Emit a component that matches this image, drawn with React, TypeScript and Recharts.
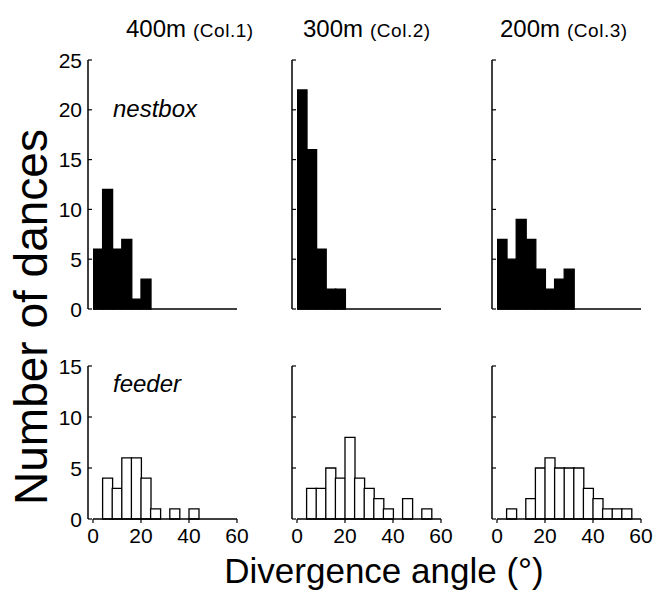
import { BarChart, Bar, XAxis, YAxis, ReferenceLine } from "recharts";

// 4-degree bins, labelled by their lower edge
const bins = [0, 4, 8, 12, 16, 20, 24, 28, 32, 36, 40, 44, 48, 52, 56];
const binWidth = 4;

const nestbox400 = [6, 12, 6, 7, 1, 3, 0, 0, 0, 0, 0, 0, 0, 0, 0];
const nestbox300 = [22, 16, 6, 2, 2, 0, 0, 0, 0, 0, 0, 0, 0, 0, 0];
const nestbox200 = [7, 5, 9, 7, 4, 2, 3, 4, 0, 0, 0, 0, 0, 0, 0];

const feeder400 = [0, 4, 3, 6, 6, 4, 1, 0, 1, 0, 1, 0, 0, 0, 0];
const feeder300 = [0, 3, 3, 5, 4, 8, 4, 3, 2, 1, 0, 2, 0, 1, 0];
const feeder200 = [0, 1, 0, 2, 5, 6, 5, 5, 5, 3, 2, 1, 1, 1, 0];

const xTicks = [0, 20, 40, 60];
const nestboxTicks = [0, 5, 10, 15, 20, 25];
const feederTicks = [0, 5, 10, 15];

const columns = [
  { dist: "400m", col: "(Col.1)", left: 38, titleX: 126, nestbox: nestbox400, feeder: feeder400 },
  { dist: "300m", col: "(Col.2)", left: 242, titleX: 303, nestbox: nestbox300, feeder: feeder300 },
  { dist: "200m", col: "(Col.3)", left: 442, titleX: 500, nestbox: nestbox200, feeder: feeder200 },
];

const FONT = "'Liberation Sans', Arial, Helvetica, sans-serif";

const toRows = (values: number[]) =>
  bins.map((b, i) => ({ mid: b + binWidth / 2, count: values[i] }));

// inward-pointing y tick with the label outside the axis
function makeYTick(showLabel: boolean) {
  return (props: any) => {
    const { x, y, payload } = props;
    return (
      <g>
        <line x1={x + 6} x2={x + 10} y1={y} y2={y} stroke="#000" strokeWidth={1.2} />
        {showLabel && (
          <text
            x={x}
            y={y}
            dy="0.36em"
            textAnchor="end"
            fontSize={21}
            fontFamily={FONT}
            fill="#000"
          >
            {payload.value}
          </text>
        )}
      </g>
    );
  };
}

interface PanelProps {
  values: number[];
  top: number;
  left: number;
  yMax: number;
  yTicks: number[];
  plotHeight: number;
  showYLabels: boolean;
  showXLabels: boolean;
  open: boolean;
}

function Panel({ values, top, left, yMax, yTicks, plotHeight, showYLabels, showXLabels, open }: PanelProps) {
  const marginTop = 14;
  const xAxisHeight = showXLabels ? 34 : 16;
  return (
    <div style={{ position: "absolute", left, top }}>
      <BarChart
        width={213}
        height={marginTop + plotHeight + xAxisHeight}
        data={toRows(values)}
        margin={{ top: marginTop, right: 14, bottom: 0, left: 0 }}
        barCategoryGap={0}
        barGap={0}
      >
        <XAxis
          dataKey="mid"
          type="number"
          domain={[0, 60]}
          ticks={xTicks}
          interval={0}
          allowDataOverflow
          padding={{ left: 5, right: 0 }}
          axisLine={false}
          tickLine={{ stroke: "#000", strokeWidth: 1.2 }}
          tickSize={4}
          tickMargin={5}
          height={xAxisHeight}
          tick={showXLabels ? { fontSize: 21, fill: "#000", fontFamily: FONT } : false}
        />
        <YAxis
          type="number"
          domain={[0, yMax]}
          ticks={yTicks}
          interval={0}
          width={50}
          axisLine={{ stroke: "#000", strokeWidth: 1.5 }}
          tickLine={false}
          tickSize={0}
          tickMargin={6}
          tick={makeYTick(showYLabels)}
        />
        <Bar
          dataKey="count"
          fill={open ? "#fff" : "#000"}
          stroke="#000"
          strokeWidth={1.3}
          isAnimationActive={false}
        />
        <ReferenceLine
          segment={[
            { x: 0, y: 0 },
            { x: 60, y: 0 },
          ]}
          stroke="#000"
          strokeWidth={1.5}
        />
      </BarChart>
    </div>
  );
}

export default function App() {
  return (
    <div
      style={{
        position: "absolute",
        left: 0,
        top: 0,
        width: 661,
        height: 593,
        background: "#fff",
        fontFamily: FONT,
      }}
    >
      {columns.map((c) => (
        <Panel
          key={"n" + c.dist}
          values={c.nestbox}
          top={46}
          left={c.left}
          yMax={25}
          yTicks={nestboxTicks}
          plotHeight={249}
          showYLabels={c.left === 38}
          showXLabels={false}
          open={false}
        />
      ))}
      {columns.map((c) => (
        <Panel
          key={"f" + c.dist}
          values={c.feeder}
          top={352}
          left={c.left}
          yMax={15}
          yTicks={feederTicks}
          plotHeight={153}
          showYLabels={c.left === 38}
          showXLabels={true}
          open={true}
        />
      ))}
      <svg
        width={661}
        height={593}
        style={{ position: "absolute", left: 0, top: 0, pointerEvents: "none" }}
        fontFamily={FONT}
      >
        {columns.map((c) => (
          <text key={"t" + c.dist} x={c.titleX} y={37} fill="#000">
            <tspan fontSize={24}>{c.dist}</tspan>
            <tspan fontSize={19} dx={7} letterSpacing={0.5}>
              {c.col}
            </tspan>
          </text>
        ))}
        <text x={113} y={117} fontSize={24} fontStyle="italic" fill="#000">
          nestbox
        </text>
        <text x={113} y={392} fontSize={24} fontStyle="italic" fill="#000">
          feeder
        </text>
        <text
          x={0}
          y={0}
          fontSize={46}
          textAnchor="middle"
          fill="#000"
          transform="translate(47 317) rotate(-90)"
        >
          Number of dances
        </text>
        <text x={384} y={583} fontSize={35} textAnchor="middle" fill="#000">
          Divergence angle (°)
        </text>
      </svg>
    </div>
  );
}
